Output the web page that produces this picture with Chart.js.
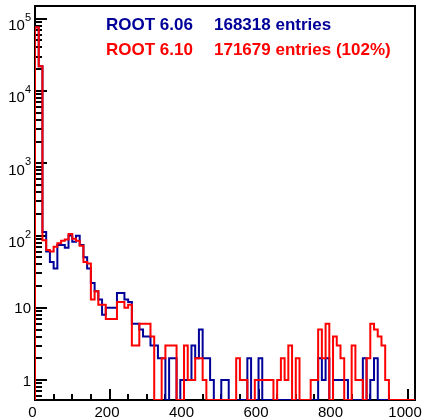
<!DOCTYPE html>
<html>
<head>
<meta charset="utf-8">
<script src="https://cdn.jsdelivr.net/npm/chart.js@4"></script>
<style>
  html, body { margin: 0; padding: 0; background: #fff; }
  #histo { display: block; }
</style>
</head>
<body>
<canvas id="histo" width="422" height="418"></canvas>
<script>
// bin contents, bins of 10 starting at 0
const binWidth = 10;
const blue606 = [
  78000, 76000, 22000, 112, 60, 43, 35, 74, 74, 68,
  100, 82, 99, 74, 50, 35, 22, 17, 13, 8,
  10, 10, 10, 16, 16, 13, 12, 6, 6, 5,
  4, 4, 3, 3, 2, 2, 0, 2, 2, 0,
  1, 1, 1, 3, 2, 5, 2, 2, 1, 0,
  0, 1, 1, 0, 0, 0, 0, 0, 2, 0,
  0, 2, 0, 0, 0, 0, 0, 0, 0, 0,
  0, 0, 0, 0, 0, 0, 0, 2, 1, 2,
  0, 1, 1, 1, 1, 0, 0, 0, 0, 2,
  0, 1, 2, 0, 0, 0, 0, 0, 0, 0,
  0, 0
];
const red610 = [
  78000, 76000, 22000, 86, 63, 60, 70, 78, 85, 88,
  105, 90, 85, 72, 43, 41, 13, 17, 11, 11,
  7, 7, 7, 12, 12, 10, 11, 3, 3, 6,
  6, 6, 4, 0, 0, 2, 3, 3, 3, 0,
  0, 3, 1, 1, 2, 2, 1, 0, 0, 0,
  0, 0, 0, 0, 0, 2, 1, 1, 0, 0,
  1, 1, 1, 1, 1, 0, 1, 2, 1, 3,
  0, 2, 0, 0, 0, 1, 1, 5, 2, 6,
  0, 4, 3, 2, 0, 0, 3, 1, 1, 0,
  2, 6, 5, 4, 3, 1, 0, 0, 0, 0,
  0, 0
];
const xTickLabels = [0, 200, 400, 600, 800, 1000];
const yDecades = [0, 1, 2, 3, 4, 5];
const legendBlue = ['ROOT 6.06', '168318 entries'];
const legendRed = ['ROOT 6.10', '171679 entries (102%)'];

const X_MAX = 1020;
const Y_MIN = 0.53;
const Y_MAX = 1.5e5;
const BLUE = '#000099';
const RED = '#ff0000';
const FONT = '"Liberation Sans", Arial, Helvetica, sans-serif';

// histogram outline as step points, empty bins sit on the frame bottom
function histoPoints(values) {
  const pts = [{x: 0, y: Y_MIN}];
  values.forEach((v, i) => pts.push({x: i * binWidth, y: Math.max(v, Y_MIN)}));
  const end = values.length * binWidth;
  pts.push({x: end, y: Math.max(values[values.length - 1], Y_MIN)});
  pts.push({x: end, y: Y_MIN});
  return pts;
}

const rootFrame = {
  id: 'rootFrame',
  beforeDatasetsDraw(chart) {
    const {ctx, chartArea: a, scales: {x, y}} = chart;
    ctx.save();
    ctx.strokeStyle = '#000';
    ctx.lineWidth = 2;
    ctx.strokeRect(a.left, a.top, a.right - a.left, a.bottom - a.top);
    ctx.beginPath();
    for (let v = 0; v <= X_MAX; v += 50) {
      const px = Math.round(x.getPixelForValue(v));
      const len = v % 200 === 0 ? 11 : 6;
      ctx.moveTo(px, a.bottom);
      ctx.lineTo(px, a.bottom - len);
    }
    for (let d = -1; d <= 5; d++) {
      for (let m = 1; m <= 9; m++) {
        const v = m * Math.pow(10, d);
        if (v < Y_MIN || v > Y_MAX) continue;
        const py = Math.round(y.getPixelForValue(v));
        const len = m === 1 ? 12 : 7;
        ctx.moveTo(a.left, py);
        ctx.lineTo(a.left + len, py);
      }
    }
    ctx.stroke();
    ctx.restore();
  },
  afterDraw(chart) {
    const {ctx, chartArea: a, scales: {x, y}} = chart;
    ctx.save();
    ctx.fillStyle = '#000';
    ctx.font = '15px ' + FONT;
    ctx.textAlign = 'center';
    ctx.textBaseline = 'alphabetic';
    xTickLabels.forEach(v => {
      ctx.fillText(String(v), x.getPixelForValue(v) - 2.5, 417);
    });
    ctx.textAlign = 'right';
    yDecades.forEach(d => {
      const py = y.getPixelForValue(Math.pow(10, d));
      if (d === 0) {
        ctx.font = '15px ' + FONT;
        ctx.fillText('1', 31, py + 5.5);
      } else if (d === 1) {
        ctx.font = '15px ' + FONT;
        ctx.fillText('10', 31, py + 5.5);
      } else {
        ctx.font = '11px ' + FONT;
        ctx.fillText(String(d), 31, py + 2);
        const w = ctx.measureText(String(d)).width;
        ctx.font = '15px ' + FONT;
        ctx.fillText('10', 31 - w, py + 11.5);
      }
    });
    ctx.textAlign = 'left';
    ctx.font = 'bold 17px ' + FONT;
    ctx.fillStyle = BLUE;
    ctx.fillText(legendBlue[0], 106, 30);
    ctx.fillText(legendBlue[1], 214, 30);
    ctx.fillStyle = RED;
    ctx.fillText(legendRed[0], 106, 55);
    ctx.fillText(legendRed[1], 214, 55);
    ctx.restore();
  }
};

const config = {
  type: 'line',
  data: {
    datasets: [
      {
        label: legendBlue[0],
        data: histoPoints(blue606),
        borderColor: BLUE,
        borderWidth: 2,
        stepped: 'after',
        pointRadius: 0,
        fill: false,
        order: 1
      }, {
        label: legendRed[0],
        data: histoPoints(red610),
        borderColor: RED,
        borderWidth: 2,
        stepped: 'after',
        pointRadius: 0,
        fill: false,
        order: 0
      }
    ]
  },
  options: {
    responsive: false,
    animation: false,
    devicePixelRatio: 1,
    layout: { padding: { left: 35, right: 7, top: 6, bottom: 18 } },
    plugins: {
      legend: { display: false },
      tooltip: { enabled: false }
    },
    scales: {
      x: { type: 'linear', min: 0, max: X_MAX, display: false },
      y: { type: 'logarithmic', min: Y_MIN, max: Y_MAX, display: false }
    }
  },
  plugins: [rootFrame]
};

const chart = new Chart(document.getElementById('histo'), config);
</script>
</body>
</html>
